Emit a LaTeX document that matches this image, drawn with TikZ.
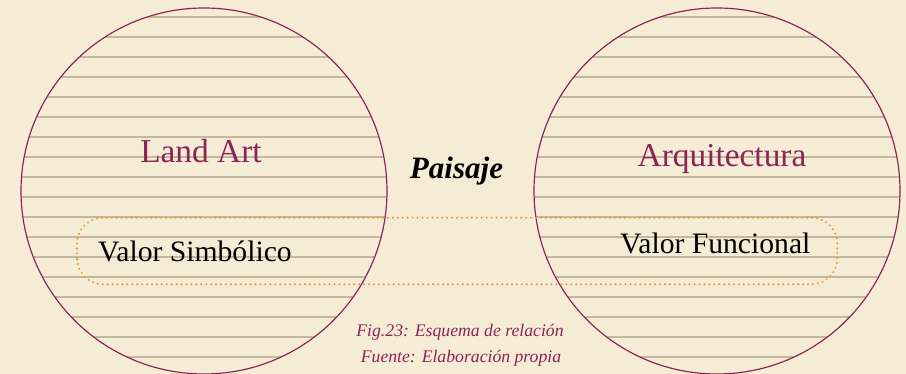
\documentclass[tikz,border=0pt]{standalone}
\usepackage{fontspec}
\setmainfont{Liberation Serif}
\usepackage{tikz}
\usetikzlibrary{positioning, calc}

\definecolor{crema}{RGB}{245,236,214}
\definecolor{granate}{RGB}{140,36,86}
\definecolor{rayado}{RGB}{194,184,160}
\definecolor{naranja}{RGB}{232,158,56}

\tikzset{
  hatch/.style={draw=rayado, line width=1.71pt},
  circulo/.style={draw=granate, line width=1pt},
  titulo/.style={text=granate, font=\fontsize{28.5}{30}\selectfont, inner sep=0pt, anchor=base},
  valor/.style={text=black, font=\fontsize{25.3}{27}\selectfont, inner sep=0pt, anchor=base west},
  marco/.style={draw=naranja, line width=2pt, line cap=round, dash pattern=on 0.01pt off 4.2pt, rounded corners=0.78cm}
}

\begin{document}
\begin{tikzpicture}[x=0.03cm, y=0.03cm]

\fill[crema] (0, 0) rectangle (906, 374);
\useasboundingbox (0, 0) rectangle (906, 374);

\coordinate (cland) at (204, 183);
\coordinate (carq) at (717, 183);

% rayado de los dos circulos
\foreach \c in {cland, carq} {
\begin{scope}
\clip (\c) circle (183);
\foreach \k in {0,...,17} {
\draw[hatch] ($(\c) + (-190, 174 - 20*\k)$) -- ++(380, 0);
}
\end{scope}
\draw[circulo] (\c) circle (183);
}

\node[titulo] (land) at (201, 211) {Land Art};
\node[titulo] (arq) at (722, 207) {Arquitectura};
\node[inner sep=0pt, anchor=base, font=\fontsize{26.5}{28}\selectfont\bfseries\itshape] (paisaje) at (456.5, 195.7) {Paisaje};

\draw[marco] (77, 89.7) rectangle (837.3, 156.3);

\node[valor] (simb) at (98, 112.3) {Valor Simbólico};
\node[valor] (func) at (620, 120.7) {Valor Funcional};

\node[text=granate, inner sep=0pt, anchor=base, font=\fontsize{15.1}{16}\selectfont\itshape] (fig) at (460, 37.3) {Fig.23: Esquema de relación};
\node[text=granate, inner sep=0pt, anchor=base, font=\fontsize{15.1}{16}\selectfont\itshape] (fuente) at (461, 11.3) {Fuente: Elaboración propia};

\end{tikzpicture}
\end{document}
